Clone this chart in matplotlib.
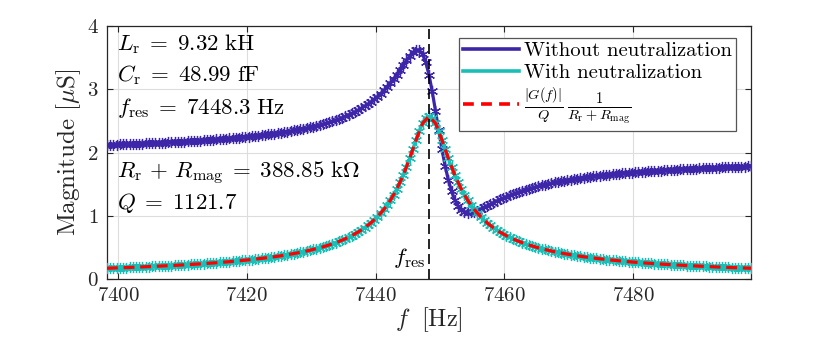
import numpy as np
import matplotlib
matplotlib.use("Agg")
import matplotlib.pyplot as plt
from matplotlib.lines import Line2D

plt.rcParams['font.family'] = 'serif'
plt.rcParams['font.serif'] = ['cmr10']
plt.rcParams['mathtext.fontset'] = 'cm'
plt.rcParams['axes.formatter.use_mathtext'] = True

# ---- data ----
f_start, f_stop = 7398.3, 7498.3
f_res = 7448.3
n_meas = 201     # measured sweep points
n_model = 101    # model curve points
freq_meas = np.linspace(f_start, f_stop, n_meas)
freq_model = np.linspace(f_start, f_stop, n_model)

without_neutral = [
    2.120, 2.122, 2.123, 2.125, 2.127, 2.129, 2.131, 2.133, 2.135, 2.137,
    2.139, 2.141, 2.143, 2.145, 2.147, 2.150, 2.152, 2.154, 2.157, 2.159,
    2.162, 2.165, 2.168, 2.170, 2.173, 2.176, 2.179, 2.182, 2.185, 2.188,
    2.192, 2.195, 2.199, 2.202, 2.206, 2.210, 2.214, 2.218, 2.222, 2.226,
    2.231, 2.236, 2.241, 2.246, 2.251, 2.256, 2.262, 2.268, 2.274, 2.280,
    2.286, 2.293, 2.300, 2.307, 2.314, 2.322, 2.330, 2.339, 2.348, 2.357,
    2.367, 2.377, 2.387, 2.398, 2.410, 2.423, 2.436, 2.450, 2.464, 2.479,
    2.496, 2.513, 2.531, 2.551, 2.571, 2.594, 2.617, 2.643, 2.670, 2.699,
    2.731, 2.765, 2.802, 2.842, 2.885, 2.932, 2.983, 3.039, 3.099, 3.163,
    3.232, 3.305, 3.381, 3.456, 3.526, 3.584, 3.618, 3.614, 3.555, 3.427,
    3.227,
    2.965, 2.664, 2.352, 2.055, 1.790, 1.567, 1.388, 1.254, 1.159, 1.097,
    1.064, 1.051, 1.053, 1.065, 1.083, 1.106, 1.131, 1.157, 1.183, 1.208,
    1.233, 1.257, 1.280, 1.302, 1.323, 1.343, 1.362, 1.379, 1.396, 1.413,
    1.428, 1.442, 1.456, 1.469, 1.482, 1.494, 1.505, 1.516, 1.526, 1.536,
    1.546, 1.555, 1.564, 1.572, 1.580, 1.587, 1.595, 1.602, 1.609, 1.615,
    1.621, 1.627, 1.633, 1.639, 1.645, 1.650, 1.655, 1.660, 1.665, 1.669,
    1.674, 1.678, 1.682, 1.686, 1.690, 1.694, 1.698, 1.701, 1.705, 1.708,
    1.712, 1.715, 1.718, 1.721, 1.724, 1.727, 1.730, 1.733, 1.736, 1.738,
    1.741, 1.743, 1.746, 1.748, 1.751, 1.753, 1.755, 1.757, 1.759, 1.761,
    1.763, 1.765, 1.767, 1.769, 1.771, 1.773, 1.775, 1.777, 1.779, 1.780,
]

with_neutral = [
    0.170, 0.172, 0.174, 0.176, 0.178, 0.179, 0.181, 0.183, 0.185, 0.187,
    0.189, 0.191, 0.194, 0.196, 0.198, 0.200, 0.203, 0.205, 0.208, 0.210,
    0.213, 0.215, 0.218, 0.221, 0.224, 0.227, 0.230, 0.233, 0.236, 0.239,
    0.243, 0.246, 0.250, 0.253, 0.257, 0.261, 0.265, 0.269, 0.274, 0.278,
    0.283, 0.288, 0.293, 0.298, 0.303, 0.308, 0.314, 0.320, 0.326, 0.332,
    0.339, 0.345, 0.352, 0.359, 0.367, 0.375, 0.384, 0.393, 0.402, 0.411,
    0.421, 0.432, 0.443, 0.454, 0.467, 0.480, 0.493, 0.507, 0.523, 0.539,
    0.556, 0.574, 0.593, 0.614, 0.636, 0.660, 0.686, 0.713, 0.743, 0.775,
    0.810, 0.848, 0.890, 0.936, 0.986, 1.041, 1.102, 1.170, 1.245, 1.329,
    1.423, 1.527, 1.643, 1.770, 1.908, 2.054, 2.203, 2.344, 2.462, 2.543,
    2.572,
    2.543, 2.462, 2.344, 2.203, 2.054, 1.908, 1.770, 1.643, 1.527, 1.423,
    1.329, 1.245, 1.170, 1.102, 1.041, 0.986, 0.936, 0.890, 0.848, 0.810,
    0.775, 0.743, 0.713, 0.686, 0.660, 0.636, 0.614, 0.593, 0.574, 0.556,
    0.539, 0.523, 0.507, 0.493, 0.480, 0.467, 0.454, 0.443, 0.432, 0.421,
    0.411, 0.402, 0.393, 0.384, 0.375, 0.367, 0.359, 0.352, 0.345, 0.339,
    0.332, 0.326, 0.320, 0.314, 0.308, 0.303, 0.298, 0.293, 0.288, 0.283,
    0.278, 0.274, 0.269, 0.265, 0.261, 0.257, 0.253, 0.250, 0.246, 0.243,
    0.239, 0.236, 0.233, 0.230, 0.227, 0.224, 0.221, 0.218, 0.215, 0.213,
    0.210, 0.208, 0.205, 0.203, 0.200, 0.198, 0.196, 0.194, 0.191, 0.189,
    0.187, 0.185, 0.183, 0.181, 0.179, 0.178, 0.176, 0.174, 0.172, 0.170,
]

model_curve = [
    0.170, 0.174, 0.178, 0.181, 0.185, 0.189, 0.194, 0.198, 0.203, 0.208,
    0.213, 0.218, 0.224, 0.230, 0.236, 0.243, 0.250, 0.257, 0.265, 0.274,
    0.283, 0.293, 0.303, 0.314, 0.326, 0.339, 0.352, 0.367, 0.384, 0.402,
    0.421, 0.443, 0.467, 0.493, 0.523, 0.556, 0.593, 0.636, 0.686, 0.743,
    0.810, 0.890, 0.986, 1.102, 1.245, 1.423, 1.643, 1.908, 2.203, 2.462,
    2.572,
    2.462, 2.203, 1.908, 1.643, 1.423, 1.245, 1.102, 0.986, 0.890, 0.810,
    0.743, 0.686, 0.636, 0.593, 0.556, 0.523, 0.493, 0.467, 0.443, 0.421,
    0.402, 0.384, 0.367, 0.352, 0.339, 0.326, 0.314, 0.303, 0.293, 0.283,
    0.274, 0.265, 0.257, 0.250, 0.243, 0.236, 0.230, 0.224, 0.218, 0.213,
    0.208, 0.203, 0.198, 0.194, 0.189, 0.185, 0.181, 0.178, 0.174, 0.170,
]

x_ticks = [7400, 7420, 7440, 7460, 7480]
y_ticks = [0, 1, 2, 3, 4]

legend_labels = [
    "Without neutralization",
    "With neutralization",
    r"$\frac{|G(f)|}{Q}\,\frac{1}{R_\mathrm{r}+R_\mathrm{mag}}$",
]
annotations = [
    r"$L_\mathrm{r}\;=\;9.32\ \mathrm{kH}$",
    r"$C_\mathrm{r}\;=\;48.99\ \mathrm{fF}$",
    r"$f_\mathrm{res}\;=\;7448.3\ \mathrm{Hz}$",
    r"$R_\mathrm{r}\,+\,R_\mathrm{mag}\;=\;388.85\ \mathrm{k\Omega}$",
    r"$Q\;=\;1121.7$",
]
annot_y = [3.72, 3.22, 2.70, 1.67, 1.20]

# ---- style ----
c_purple = '#3D26A8'
c_cyan = '#19BFB7'
c_red = '#FF0000'
axis_col = '#262626'
fs_tick = 15
fs_annot = 16.5
fs_label = 18
fs_leg = 14.8

fig = plt.figure(figsize=(8.30, 3.47), dpi=100)
ax = fig.add_axes([107/830, 1 - 279/347, (751-107)/830, (279-26)/347])

star = (6, 2, 0)
ax.plot(freq_meas, without_neutral, color=c_purple, lw=2.3, zorder=3)
ax.plot(freq_meas, without_neutral, ls='none', marker=star, ms=8, mew=0.9,
        color=c_purple, zorder=3)
ax.plot(freq_meas, with_neutral, color=c_cyan, lw=2.3, zorder=4)
ax.plot(freq_meas, with_neutral, ls='none', marker=star, ms=8, mew=0.9,
        color=c_cyan, zorder=4)
ax.plot(freq_model, model_curve, color=c_red, lw=2.3, dashes=(3.4, 1.8), zorder=5)

ax.axvline(f_res, color='black', lw=1.2, dashes=(6, 3), zorder=6)
ax.text(f_res - 0.6, 0.33, r"$f_\mathrm{res}$", fontsize=fs_annot, ha='right',
        va='center', color='black', zorder=7)

for txt, yv in zip(annotations, annot_y):
    ax.text(7399.9, yv, txt, fontsize=fs_annot, ha='left', va='center', color='black')

ax.set_xlim(f_start, f_stop)
ax.set_ylim(0, 4)
ax.set_xticks(x_ticks)
ax.set_yticks(y_ticks)
ax.tick_params(direction='in', top=True, right=True, labelsize=fs_tick,
               colors=axis_col, length=4, width=0.8, pad=6)
for s in ax.spines.values():
    s.set_color(axis_col)
    s.set_linewidth(0.9)
ax.grid(True, color='#DDDDDD', lw=0.8)
ax.set_axisbelow(True)

ax.set_xlabel(r"$f\ \ [\mathrm{Hz}]$", fontsize=fs_label - 0.5, color=axis_col, labelpad=0)
ax.set_ylabel(r"Magnitude $[\mu\mathrm{S}]$", fontsize=fs_label, color=axis_col, labelpad=3)

handles = [
    Line2D([], [], color=c_purple, lw=2.6),
    Line2D([], [], color=c_cyan, lw=2.6),
    Line2D([], [], color=c_red, lw=2.6, dashes=(3, 2)),
]
leg = ax.legend(handles, legend_labels, loc='upper right',
                bbox_to_anchor=(1 - 15/644, 1 - 12/253), fontsize=fs_leg,
                frameon=True, fancybox=False, edgecolor='#555555',
                framealpha=1, borderpad=0.2, labelspacing=0.15,
                handlelength=2.7, handletextpad=0.25, borderaxespad=0)
leg.get_frame().set_linewidth(0.9)

fig.savefig("out.png", dpi=100)
